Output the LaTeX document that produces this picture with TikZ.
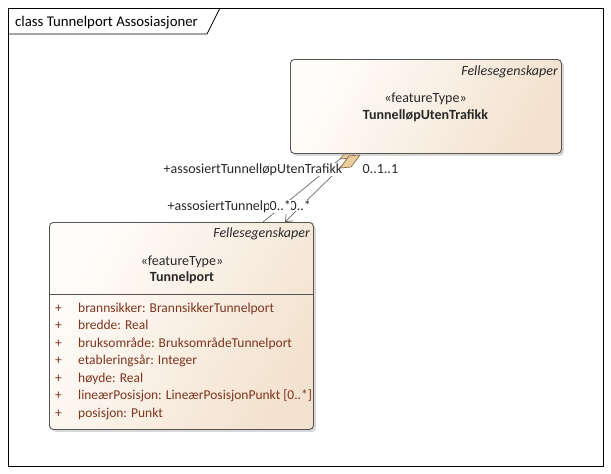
\documentclass[tikz,border=0pt]{standalone}
\usepackage{fontspec}
\setmainfont{Carlito}
\usetikzlibrary{arrows.meta,shadows,calc}
\definecolor{boxline}{RGB}{85,85,85}
\definecolor{fillA}{RGB}{255,253,250}
\definecolor{fillB}{RGB}{243,226,207}
\definecolor{attr}{RGB}{125,52,30}
\definecolor{conn}{RGB}{105,105,105}
\definecolor{dia}{RGB}{236,206,158}
\definecolor{diaedge}{RGB}{135,110,75}
\definecolor{txt}{RGB}{40,40,40}
\begin{document}
\begin{tikzpicture}[x=1pt,y=-1pt,
  every node/.style={font=\fontsize{14}{16}\selectfont, text=txt, inner sep=0pt},
  classbox/.style={draw=boxline, line width=0.9pt, rounded corners=4pt,
    left color=fillA, right color=fillB, shading angle=60,
    drop shadow={shadow xshift=2.5pt, shadow yshift=-2.5pt, fill=gray!60, opacity=0.5}},
  stereo/.style={anchor=base},
  cname/.style={anchor=base, font=\fontsize{14}{16}\selectfont\bfseries},
  pkg/.style={anchor=base east, font=\fontsize{14}{16}\selectfont\itshape},
  attrtext/.style={anchor=base west, text=attr, font=\fontsize{13.5}{16}\selectfont},
  assoc/.style={draw=conn, line width=0.7pt},
  diam/.style={fill=dia, draw=diaedge, line width=0.7pt, line join=round},
  role/.style={anchor=base west, fill=white, inner sep=0.5pt}
]
\useasboundingbox (0,0) rectangle (611,474);
% frame
\node[draw=black, line width=0.8pt, minimum width=595pt, minimum height=458pt, anchor=north west] (frame) at (8,8) {};
\coordinate (tabA) at (8,34);
\coordinate (tabB) at (207,34);
\coordinate (tabC) at (220,8);
\draw[line width=0.8pt] (tabA) -- (tabB) -- (tabC);
\node[anchor=base west, font=\fontsize{14.8}{16}\selectfont, text=black] (title) at (15,26) {class Tunnelport Assosiasjoner};

% connector end points (diamond corners)
\coordinate (nA) at (340,159);
\coordinate (sA1) at (351,158);
\coordinate (fA) at (359,147);
\coordinate (sA2) at (349,148);
\coordinate (eA) at (263,222);
\coordinate (nB) at (340,168);
\coordinate (sB1) at (351,167);
\coordinate (fB) at (360,155);
\coordinate (sB2) at (349,156);
\coordinate (eB) at (285,222);

% lines
\draw[assoc] (nA) -- (eA);
\draw[assoc, -{Straight Barb[length=6pt,width=10pt]}] (nB) -- (eB);

% diamond A (partly below the box)
\draw[diam] (nA) -- (sA1) -- (fA) -- (sA2) -- cycle;

% boxes
\node[classbox, minimum width=271pt, minimum height=94pt, anchor=north west] (top) at (290,59) {};
\node[classbox, minimum width=264pt, minimum height=207pt, anchor=north west] (bot) at (49,222) {};
\draw[boxline, line width=0.9pt] ($(bot.north west)+(0,72)$) -- ($(bot.north east)+(0,72)$);

% top box text
\node[pkg] (toppkg) at (558,75.5) {Fellesegenskaper};
\node[stereo] (topst) at (425.5,102.5) {«featureType»};
\node[cname] (topname) at (425.5,119) {TunnelløpUtenTrafikk};

% bottom box text
\node[pkg] (botpkg) at (310,237.5) {Fellesegenskaper};
\node[stereo] (botst) at (182,265) {«featureType»};
\node[cname] (botname) at (182,281.5) {Tunnelport};

% attributes
\foreach \i/\t in {0/{brannsikker: BrannsikkerTunnelport},1/{bredde: Real},2/{bruksområde: BruksområdeTunnelport},3/{etableringsår: Integer},4/{høyde: Real},5/{lineærPosisjon: LineærPosisjonPunkt [0..*]},6/{posisjon: Punkt}}{
  \node[attrtext] (plus\i) at (55,312+17.5*\i) {+};
  \node[attrtext] (attr\i) at (78,312+17.5*\i) {\t};
}

% role labels
\node[role] (r1) at (163,173) {+assosiertTunnelløpUtenTrafikk};
\node[role] (m1) at (362,173) {0..1..1};
\node[role] (r2) at (167,210) {+assosiertTunnelport};
\node[role] (m3) at (289,210) {0..*};
\node[role] (m2) at (269,210) {0..*};

% diamond B
\draw[diam] (nB) -- (sB1) -- (fB) -- (sB2) -- cycle;
\end{tikzpicture}
\end{document}
